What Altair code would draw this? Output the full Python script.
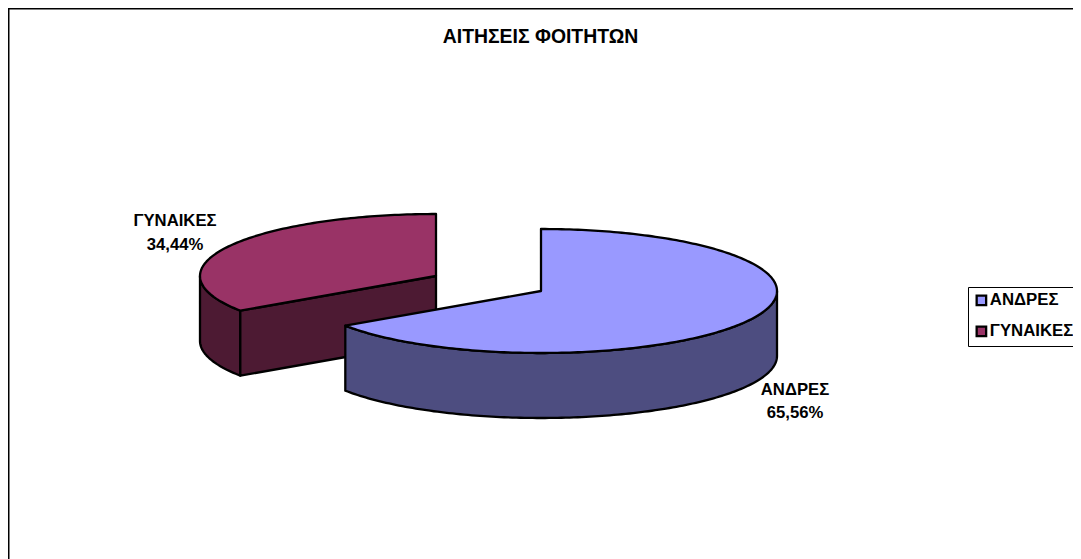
import math
import altair as alt

TITLE = "ΑΙΤΗΣΕΙΣ ΦΟΙΤΗΤΩΝ"
CATEGORIES = ["ΑΝΔΡΕΣ", "ΓΥΝΑΙΚΕΣ"]
SHARES = [65.56, 34.44]
TOP_COLOURS = ["#9999FF", "#993366"]
WALL_COLOURS = ["#4D4D80", "#4D1A33"]

# pie geometry in page pixels
RX, RY, DEPTH = 236, 62, 65
MEN_C = (541, 291)
WOMEN_C = (436, 276)
LABEL_X = [795, 175]
LABEL_Y = [389.5, 221]

FONT = "Liberation Sans"
LINE = 2.3
split = SHARES[0] * 3.6


def pt(c, t, drop=0):
    r = math.radians(t)
    return [c[0] + RX * math.sin(r), c[1] - RY * math.cos(r) + drop]


def arc(c, t0, t1, drop=0):
    n = max(2, int(abs(t1 - t0)) + 1)
    return [pt(c, t0 + (t1 - t0) * i / (n - 1), drop) for i in range(n)]


def poly(pts, cat):
    return {
        "type": "Feature",
        "properties": {"cat": cat},
        "geometry": {"type": "Polygon", "coordinates": [pts + [pts[0]]]},
    }


PROJ = dict(type="identity", scale=1, translate=[-8, -8])

# women: side walls
w_cut = [pt(WOMEN_C, split), list(WOMEN_C), [WOMEN_C[0], WOMEN_C[1] + DEPTH], pt(WOMEN_C, split, DEPTH)]
w_outer = arc(WOMEN_C, 270, split) + arc(WOMEN_C, split, 270, DEPTH)
# men: outer wall
m_outer = arc(MEN_C, 90, split) + arc(MEN_C, split, 90, DEPTH)

walls_w = alt.Chart(alt.Data(values=[poly(w_outer, CATEGORIES[1]), poly(w_cut, CATEGORIES[1])])).mark_geoshape(
    fill=WALL_COLOURS[1], stroke="black", strokeWidth=LINE, strokeJoin="round"
).project(**PROJ)

walls_m = alt.Chart(alt.Data(values=[poly(m_outer, CATEGORIES[0])])).mark_geoshape(
    fill=WALL_COLOURS[0], stroke="black", strokeWidth=LINE, strokeJoin="round"
).project(**PROJ)

fill = alt.Fill(
    "properties.cat:N",
    scale=alt.Scale(domain=CATEGORIES, range=TOP_COLOURS),
    legend=alt.Legend(
        title=None,
        orient="none",
        legendX=960,
        legendY=279,
        padding=5,
        strokeColor="black",
        fillColor="white",
        symbolType="square",
        symbolSize=90,
        symbolStrokeColor="black",
        symbolStrokeWidth=2.3,
        labelFont=FONT,
        labelFontWeight="bold",
        labelFontSize=16.8,
        labelColor="black",
        labelLimit=200,
        labelOffset=0,
        rowPadding=12,
    ),
)

top_w = alt.Chart(alt.Data(values=[poly([list(WOMEN_C)] + arc(WOMEN_C, split, 360), CATEGORIES[1])])).mark_geoshape(
    stroke="black", strokeWidth=LINE, strokeJoin="round"
).encode(fill=fill).project(**PROJ)

top_m = alt.Chart(alt.Data(values=[poly([list(MEN_C)] + arc(MEN_C, 0, split), CATEGORIES[0])])).mark_geoshape(
    stroke="black", strokeWidth=LINE, strokeJoin="round"
).encode(fill=fill).project(**PROJ)

frame = alt.Chart(
    alt.Data(values=[{
        "type": "Feature", "properties": {},
        "geometry": {"type": "LineString", "coordinates": [[8.75, 559], [8.75, 8.75], [1081, 8.75]]},
    }])
).mark_geoshape(filled=False, stroke="black", strokeWidth=1.5).project(**PROJ)

label_rows = [
    {"label": f"{c}\n" + f"{v:.2f}".replace(".", ",") + "%", "lon": x, "lat": y}
    for c, v, x, y in zip(CATEGORIES, SHARES, LABEL_X, LABEL_Y)
]
labels = alt.Chart(alt.Data(values=label_rows)).mark_text(
    font=FONT, fontWeight="bold", fontSize=16.7, color="black",
    lineBreak="\n", lineHeight=23.5, align="center", baseline="middle",
).encode(longitude="lon:Q", latitude="lat:Q", text="label:N").project(**PROJ)

chart = (
    alt.layer(frame, walls_w, top_w, walls_m, top_m, labels)
    .resolve_scale(fill="shared")
    .properties(
        width=1065,
        height=551,
        padding=0,
        autosize=alt.AutoSizeParams(type="none"),
        title=alt.TitleParams(
            TITLE, font=FONT, fontWeight="bold", fontSize=19.4, color="black",
            anchor="middle", frame="group", dx=0, offset=-54, baseline="alphabetic",
        ),
    )
    .configure_view(stroke=None)
)

chart.save("out.html", embed_options={"renderer": "svg", "actions": False})
